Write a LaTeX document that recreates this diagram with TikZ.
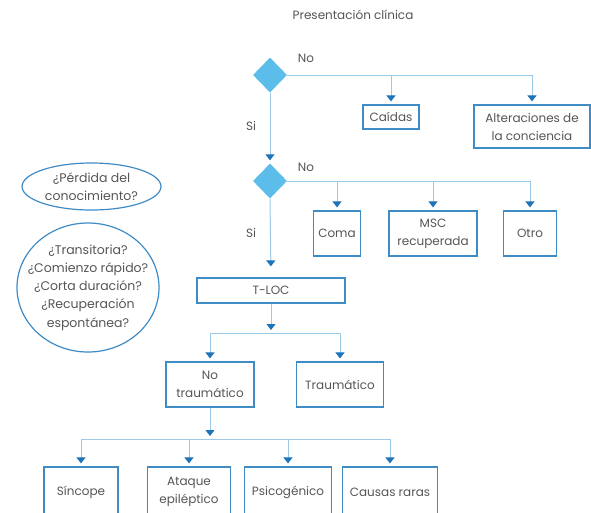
\documentclass[tikz,border=0pt]{standalone}
\usepackage{fontspec}
\setmainfont{Poppins}
\usetikzlibrary{shapes.geometric,arrows.meta}
\definecolor{lineblue}{HTML}{9CC9EA}
\definecolor{tipblue}{HTML}{1F74B8}
\definecolor{boxblue}{HTML}{3F8BC6}
\definecolor{diafill}{HTML}{5CBDEA}
\definecolor{txt}{HTML}{555555}
\begin{document}
\begin{tikzpicture}[x=1pt,y=-1pt,
  font=\fontsize{12}{18}\selectfont, text=txt,
  box/.style={draw=boxblue, line width=1.2pt, align=center, inner sep=0pt},
  oval/.style={ellipse, draw=boxblue, line width=1.2pt, inner sep=0pt},
  ovaltext/.style={align=center, inner sep=0pt, font=\fontsize{12.5}{18.3}\selectfont},
  dia/.style={diamond, fill=diafill, inner sep=0pt, minimum width=34pt, minimum height=35pt},
  ln/.style={draw=lineblue, line width=1pt},
  conn/.style={ln, -{Triangle[width=9pt,length=6pt,color=tipblue,fill=tipblue]}, shorten >=3pt},
  lbl/.style={inner sep=0pt}]
\useasboundingbox (0,0) rectangle (591,512);
\clip (0,0) rectangle (591,512);

\node[lbl] (title) at (353,15) {Presentación clínica};

\node[dia] (d1) at (270,75) {};
\node[lbl] (no1) at (306,58) {No};
\node[lbl] (si1) at (251,126) {Si};
\node[box, minimum width=56pt, minimum height=24pt] (caidas) at (391,117) {Caídas};
\node[box, minimum width=116pt, minimum height=43pt] (alt) at (532,126.5) {Alteraciones de\\la conciencia};

\node[dia] (d2) at (270,181) {};
\node[lbl] (no2) at (306,167) {No};
\node[lbl] (si2) at (251,233) {Si};
\node[box, minimum width=47pt, minimum height=45pt] (coma) at (337,233.5) {Coma};
\node[box, minimum width=88pt, minimum height=45pt] (msc) at (433,233.5) {MSC\\recuperada};
\node[box, minimum width=53pt, minimum height=45pt] (otro) at (530,233.5) {Otro};

\node[box, minimum width=148pt, minimum height=25pt] (tloc) at (271,290.5) {T-LOC};
\coordinate (j1) at (271,333);
\node[box, minimum width=88pt, minimum height=45pt] (nt) at (210,384.5) {No\\traumático};
\node[box, minimum width=87pt, minimum height=45pt] (tr) at (340,384.5) {Traumático};

\coordinate (j2) at (210,439);
\node[box, minimum width=74pt, minimum height=50pt] (sinc) at (81,492) {Síncope};
\node[box, minimum width=83pt, minimum height=50pt] (ataq) at (189,492) {Ataque\\epiléptico};
\node[box, minimum width=87pt, minimum height=50pt] (psic) at (288,492) {Psicogénico};
\node[box, minimum width=95pt, minimum height=50pt] (caus) at (390,492) {Causas raras};

\node[oval, minimum width=139pt, minimum height=47pt] (e1) at (91.5,186.5) {};
\node[ovaltext] (e1t) at (e1.center) {¿Pérdida del\\conocimiento?};
\node[oval, minimum width=142pt, minimum height=129pt] (e2) at (88,287.5) {};
\node[ovaltext] (e2t) at (e2.center) {¿Transitoria?\\¿Comienzo rápido?\\¿Corta duración?\\¿Recuperación\\espontánea?};

% connectors
\draw[conn] (d1.east) -| (alt.north);
\draw[conn] (d1.east -| caidas.north) -- (caidas.north);
\draw[conn] (d1.south) -- (d2.north);

\draw[conn] (d2.east) -| (otro.north);
\draw[conn] (d2.east -| coma.north) -- (coma.north);
\draw[conn] (d2.east -| msc.north) -- (msc.north);
\draw[conn, shorten >=11pt] (d2.south) -- (tloc.north);

\draw[conn] (tloc.south) -- (j1);
\draw[ln] (j1 -| nt.north) -- (j1 -| tr.north);
\draw[conn] (j1 -| nt.north) -- (nt.north);
\draw[conn] (j1 -| tr.north) -- (tr.north);

\draw[conn] (nt.south) -- (j2);
\draw[ln] (j2 -| sinc.north) -- (j2 -| caus.north);
\draw[conn] (j2 -| sinc.north) -- (sinc.north);
\draw[conn] (j2 -| ataq.north) -- (ataq.north);
\draw[conn] (j2 -| psic.north) -- (psic.north);
\draw[conn] (j2 -| caus.north) -- (caus.north);
\end{tikzpicture}
\end{document}
